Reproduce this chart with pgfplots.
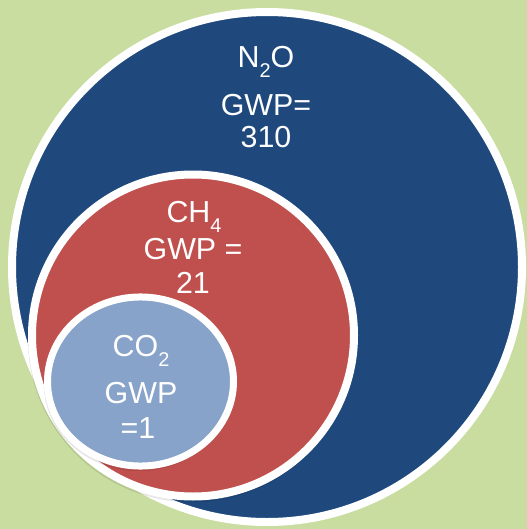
\documentclass[border=0pt]{standalone}
\usepackage{pgfplots}
\pgfplotsset{compat=1.18}
\usepackage{pgfplotstable}
\usepackage{fontspec}
\setmainfont{Liberation Sans}
\definecolor{bg}{HTML}{C9DDA1}
\definecolor{navy}{HTML}{1F497D}
\definecolor{brick}{HTML}{C0504D}
\definecolor{sky}{HTML}{87A3C9}
\newcommand{\sub}[1]{\raisebox{-0.32em}{\fontsize{20}{22}\selectfont #1}}
\tikzset{lbl/.style={text=white, font=\fontsize{30.5}{34}\selectfont, inner sep=0pt, anchor=center}}
\begin{document}
\begin{tikzpicture}
\begin{axis}[
  scale only axis, width=527bp, height=529bp,
  xmin=0, xmax=527, ymin=0, ymax=529, y dir=reverse,
  axis lines=none, ticks=none,
  axis background/.style={fill=bg},
  clip=true, clip marker paths=true,
]
% N2O circle (GWP = 310)
\addplot[only marks, mark=*, mark size=255bp, mark options={fill=navy, draw=white, line width=8bp}] coordinates {(267,267)};
% CH4 shadow and circle (GWP = 21)
\addplot[only marks, mark=*, mark size=164bp, mark options={fill=black, draw=none, opacity=0.08}] coordinates {(192,338)};
\addplot[only marks, mark=*, mark size=161bp, mark options={fill=brick, draw=white, line width=8bp}] coordinates {(193,335.5)};
% CO2 shadow and circle (GWP = 1)
\addplot[only marks, mark=*, mark size=95bp, mark options={fill=black, draw=none, opacity=0.08, yscale=0.913}] coordinates {(139,384)};
\addplot[only marks, mark=*, mark size=93bp, mark options={fill=sky, draw=white, line width=7bp, yscale=0.909}] coordinates {(140.5,381.5)};
% labels
\node[lbl] at (axis cs:266,62) {N\sub{2}O};
\node[lbl] at (axis cs:266,105) {GWP=};
\node[lbl] at (axis cs:266,137) {310};
\node[lbl] at (axis cs:194,217) {CH\sub{4}};
\node[lbl] at (axis cs:193,249) {GWP =};
\node[lbl] at (axis cs:193,283) {21};
\node[lbl] at (axis cs:141,351) {CO\sub{2}};
\node[lbl] at (axis cs:141,393) {GWP};
\node[lbl] at (axis cs:138,428) {=1};
\end{axis}
\end{tikzpicture}
\end{document}
